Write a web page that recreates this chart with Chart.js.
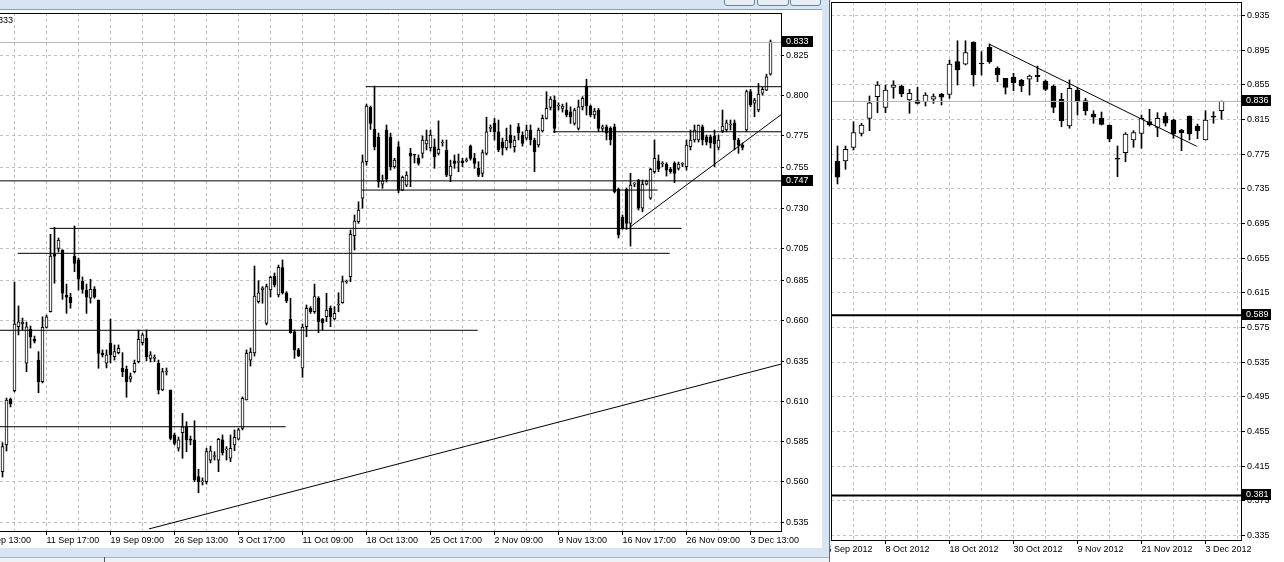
<!DOCTYPE html>
<html>
<head>
<meta charset="utf-8">
<title>MT4 charts</title>
<script src="https://cdn.jsdelivr.net/npm/chart.js@4.4.1/dist/chart.umd.min.js"></script>
<style>
  body { margin: 0; width: 1284px; height: 562px; overflow: hidden; background: #fff; position: relative; }
  .box { position: absolute; }
  #leftWin { left: 0; top: 0; width: 830px; height: 562px; background: #d7e4f2; }
  #titleLine { left: 0; top: 9px; width: 822px; height: 1px; background: #8d9db1; }
  .btn { top: -3px; height: 7px; border: 1px solid #6f8196; border-radius: 3px; background: #e8eef6; }
  #bottomStrip { left: 0; top: 557px; width: 830px; height: 5px; background: #eef1f5; border-top: 1px solid #a9b6c6; }
  #bottomTick { left: 104px; top: 557px; width: 1px; height: 5px; background: #555; }
  #rightEdge { left: 829px; top: 0; width: 1px; height: 562px; background: #5d6b7c; }
  canvas { position: absolute; background: #fff; }
</style>
</head>
<body>
<div id="leftWin" class="box"></div>
<div id="titleLine" class="box"></div>
<div class="box btn" style="left:724px;width:29px"></div>
<div class="box btn" style="left:757px;width:30px"></div>
<div class="box btn" style="left:790px;width:29px"></div>
<div id="bottomStrip" class="box"></div>
<div id="bottomTick" class="box"></div>
<canvas id="leftChart" width="822" height="538" style="left:0;top:10px"></canvas>
<div id="rightEdge" class="box"></div>
<canvas id="rightChart" width="454" height="557" style="left:830px;top:0"></canvas>

<script>
// ---- LEFT CHART (H4) ----
// one value per bar, bar 0 is the first bar on the left
let leftOpen = [
  0.5664,0.5830,0.6115,0.6167,0.6564,0.6581,0.6337,0.6550,0.6488,0.6357,
  0.6223,0.6560,0.6657,0.7016,0.7051,0.7041,0.6761,0.6747,0.7003,0.6979,
  0.6846,0.6792,0.6741,0.6796,0.6730,0.6401,0.6337,0.6461,0.6378,0.6403,
  0.6306,0.6300,0.6238,0.6285,0.6347,0.6465,0.6492,0.6368,0.6368,0.6337,
  0.6171,0.6283,0.6171,0.5892,0.5809,0.5906,0.5943,0.5861,0.5861,0.5633,
  0.5600,0.5602,0.5736,0.5757,0.5736,0.5861,0.5799,0.5747,0.5830,0.5865,
  0.5933,0.6109,0.6357,0.6401,0.6720,0.6792,0.6585,0.6792,0.6879,0.6761,
  0.6931,0.6775,0.6610,0.6533,0.6420,0.6306,0.6564,0.6679,0.6657,0.6741,
  0.6612,0.6626,0.6679,0.6612,0.6699,0.6713,0.6842,0.6875,0.7129,0.7216,
  0.7362,0.7589,0.7927,0.7790,0.7742,0.7450,0.7786,0.7742,0.7558,0.7682,
  0.7413,0.7444,0.7641,0.7631,0.7610,0.7641,0.7699,0.7674,0.7682,0.7641,
  0.7705,0.7662,0.7500,0.7595,0.7585,0.7595,0.7595,0.7686,0.7610,0.7548,
  0.7517,0.7641,0.7796,0.7827,0.7775,0.7711,0.7674,0.7755,0.7682,0.7806,
  0.7755,0.7736,0.7786,0.7724,0.7693,0.7781,0.7858,0.7927,0.7972,0.7935,
  0.7920,0.7910,0.7899,0.7827,0.7796,0.7930,0.8059,0.7935,0.7879,0.7910,
  0.7796,0.7806,0.7796,0.7806,0.7417,0.7243,0.7417,0.7206,0.7450,0.7475,
  0.7300,0.7450,0.7362,0.7527,0.7595,0.7575,0.7575,0.7542,0.7579,0.7548,
  0.7573,0.7558,0.7682,0.7724,0.7724,0.7806,0.7744,0.7744,0.7749,0.7678,
  0.7781,0.7786,0.7817,0.7831,0.7724,0.7693,0.7786,0.8024,0.7952,0.7910,
  0.8014,0.8034,0.8133
];
let leftHigh = [
  0.5844,0.6121,0.6121,0.6842,0.6693,0.6618,0.6593,0.6569,0.6506,0.6409,
  0.6626,0.6637,0.7138,0.7182,0.7115,0.7041,0.6829,0.6772,0.7190,0.6991,
  0.6873,0.6829,0.6859,0.6813,0.6730,0.6420,0.6420,0.6612,0.6451,0.6451,
  0.6403,0.6320,0.6277,0.6357,0.6544,0.6525,0.6544,0.6409,0.6389,0.6357,
  0.6306,0.6308,0.6171,0.5904,0.5879,0.6026,0.5974,0.5885,0.5980,0.5679,
  0.5625,0.5809,0.5823,0.5788,0.5871,0.5892,0.5819,0.5892,0.5923,0.5933,
  0.6128,0.6420,0.6432,0.6941,0.6850,0.6813,0.6829,0.6879,0.6898,0.6947,
  0.6979,0.6782,0.6741,0.6544,0.6430,0.6581,0.6699,0.6689,0.6829,0.6751,
  0.6616,0.6772,0.6693,0.6689,0.6775,0.6879,0.6854,0.7165,0.7258,0.7340,
  0.7631,0.7947,0.7935,0.8059,0.7767,0.7506,0.7817,0.7767,0.7610,0.7713,
  0.7500,0.7527,0.7672,0.7631,0.7631,0.7749,0.7786,0.7786,0.7730,0.7843,
  0.7724,0.7724,0.7599,0.7631,0.7637,0.7610,0.7612,0.7693,0.7641,0.7589,
  0.7662,0.7866,0.7817,0.7858,0.7848,0.7736,0.7798,0.7817,0.7749,0.7827,
  0.7775,0.7817,0.7817,0.7736,0.7798,0.7879,0.8024,0.7993,0.7997,0.7955,
  0.7947,0.7955,0.7930,0.7920,0.7972,0.7993,0.8102,0.7941,0.7920,0.7920,
  0.7817,0.7817,0.7806,0.7823,0.7426,0.7258,0.7426,0.7517,0.7459,0.7480,
  0.7475,0.7475,0.7548,0.7724,0.7631,0.7589,0.7583,0.7554,0.7589,0.7587,
  0.7583,0.7724,0.7786,0.7817,0.7817,0.7817,0.7755,0.7755,0.7786,0.7755,
  0.7910,0.7848,0.7848,0.7848,0.7735,0.7705,0.8034,0.8038,0.7983,0.8076,
  0.8051,0.8133,0.8345
];
let leftLow = [
  0.5631,0.5792,0.6066,0.6159,0.6513,0.6544,0.6285,0.6432,0.6463,0.6154,
  0.6215,0.6556,0.6655,0.6834,0.7028,0.6734,0.6647,0.6679,0.6906,0.6792,
  0.6772,0.6647,0.6711,0.6741,0.6306,0.6376,0.6308,0.6339,0.6357,0.6395,
  0.6254,0.6126,0.6221,0.6277,0.6339,0.6451,0.6353,0.6345,0.6347,0.6146,
  0.6167,0.6264,0.5861,0.5830,0.5792,0.5747,0.5788,0.5830,0.5602,0.5533,
  0.5581,0.5587,0.5718,0.5736,0.5664,0.5767,0.5736,0.5726,0.5794,0.5861,
  0.5923,0.6109,0.6320,0.6382,0.6711,0.6710,0.6575,0.6749,0.6811,0.6749,
  0.6767,0.6713,0.6523,0.6368,0.6378,0.6250,0.6502,0.6647,0.6647,0.6527,
  0.6544,0.6595,0.6564,0.6606,0.6657,0.6710,0.6834,0.6844,0.7041,0.7206,
  0.7300,0.7568,0.7790,0.7662,0.7430,0.7424,0.7463,0.7537,0.7548,0.7396,
  0.7409,0.7434,0.7434,0.7581,0.7568,0.7612,0.7662,0.7655,0.7548,0.7630,
  0.7686,0.7496,0.7465,0.7548,0.7527,0.7558,0.7587,0.7599,0.7548,0.7496,
  0.7496,0.7631,0.7775,0.7724,0.7651,0.7631,0.7662,0.7674,0.7649,0.7724,
  0.7686,0.7724,0.7693,0.7527,0.7680,0.7773,0.7854,0.7910,0.7769,0.7910,
  0.7897,0.7868,0.7827,0.7817,0.7786,0.7910,0.7879,0.7868,0.7858,0.7775,
  0.7775,0.7724,0.7693,0.7395,0.7115,0.7169,0.7169,0.7065,0.7434,0.7289,
  0.7278,0.7444,0.7355,0.7517,0.7527,0.7558,0.7500,0.7517,0.7459,0.7537,
  0.7558,0.7537,0.7662,0.7711,0.7711,0.7693,0.7693,0.7674,0.7558,0.7662,
  0.7769,0.7775,0.7786,0.7662,0.7641,0.7662,0.7775,0.7930,0.7868,0.7899,
  0.8003,0.8030,0.8127
];
let leftClose = [
  0.5819,0.6109,0.6084,0.6581,0.6595,0.6593,0.6564,0.6500,0.6475,0.6223,
  0.6560,0.6626,0.7003,0.7003,0.7103,0.6772,0.6747,0.6713,0.6958,0.6859,
  0.6796,0.6747,0.6796,0.6747,0.6399,0.6389,0.6389,0.6389,0.6409,0.6430,
  0.6285,0.6223,0.6254,0.6337,0.6486,0.6513,0.6378,0.6389,0.6370,0.6171,
  0.6285,0.6285,0.5871,0.5840,0.5861,0.5943,0.5861,0.5859,0.5612,0.5602,
  0.5602,0.5788,0.5794,0.5758,0.5865,0.5782,0.5800,0.5809,0.5877,0.5923,
  0.6120,0.6399,0.6407,0.6755,0.6774,0.6806,0.6813,0.6871,0.6823,0.6933,
  0.6775,0.6726,0.6527,0.6420,0.6382,0.6562,0.6679,0.6657,0.6751,0.6595,
  0.6589,0.6668,0.6626,0.6647,0.6700,0.6844,0.6843,0.7138,0.7221,0.7289,
  0.7589,0.7935,0.7827,0.7682,0.7465,0.7469,0.7480,0.7558,0.7599,0.7413,
  0.7492,0.7506,0.7624,0.7630,0.7579,0.7724,0.7724,0.7755,0.7620,0.7666,
  0.7706,0.7506,0.7562,0.7579,0.7586,0.7583,0.7596,0.7610,0.7579,0.7506,
  0.7645,0.7775,0.7797,0.7775,0.7662,0.7674,0.7724,0.7707,0.7724,0.7769,
  0.7703,0.7786,0.7724,0.7651,0.7786,0.7858,0.7920,0.7978,0.7796,0.7936,
  0.7935,0.7879,0.7868,0.7910,0.7930,0.7983,0.7935,0.7879,0.7904,0.7796,
  0.7806,0.7767,0.7724,0.7403,0.7134,0.7175,0.7206,0.7444,0.7451,0.7300,
  0.7450,0.7469,0.7542,0.7610,0.7542,0.7576,0.7537,0.7527,0.7517,0.7575,
  0.7574,0.7693,0.7724,0.7786,0.7817,0.7724,0.7711,0.7705,0.7699,0.7724,
  0.7811,0.7831,0.7818,0.7724,0.7693,0.7678,0.8024,0.7941,0.7972,0.8009,
  0.8038,0.8117,0.8334
];
let leftPriceTicks = [0.825, 0.800, 0.775, 0.755, 0.730, 0.705, 0.685, 0.660, 0.635, 0.610, 0.585, 0.560, 0.535];
let leftTimeBars = [-5, 11, 27, 43, 59, 75, 91, 107, 123, 139, 155, 171, 187];
let leftTimeLabels = ['4 Sep 13:00', '11 Sep 17:00', '19 Sep 09:00', '26 Sep 13:00', '3 Oct 17:00', '11 Oct 09:00',
  '18 Oct 13:00', '25 Oct 17:00', '2 Nov 09:00', '9 Nov 13:00', '16 Nov 17:00', '26 Nov 09:00', '3 Dec 13:00'];
// horizontal lines drawn on the chart: price, first bar, last bar
let leftLevels = [0.8055, 0.7775, 0.7470, 0.7413, 0.7175, 0.7020, 0.6542, 0.5943];
let leftLevelFrom = [90.8, 137.6, -10, 89.8, 11.8, 3.8, -10, -10];
let leftLevelTo = [210, 210, 210, 163.8, 169.8, 166.8, 118.8, 70.8];
// trend lines: [bar, price] pairs
let leftTrendA = [[36.6, 0.5308], [194.8, 0.6333]];
let leftTrendB = [[156.8, 0.7182], [194.8, 0.7884]];
let leftBid = 0.833;
let leftMarks = [0.833, 0.747];

// ---- RIGHT CHART (Daily) ----
let rightOpen = [
  0.7606,0.7672,0.7672,0.7830,0.7992,0.8165,0.8415,0.8292,0.8523,0.8538,
  0.8377,0.8369,0.8357,0.8385,0.8446,0.8442,0.8819,0.8789,0.9043,0.8798,
  0.8985,0.8743,0.8627,0.8639,0.8608,0.8616,0.8662,0.8596,0.8538,0.8385,
  0.8076,0.8492,0.8369,0.8215,0.8165,0.8088,0.7703,0.7768,0.7915,0.7992,
  0.8126,0.8061,0.8192,0.8146,0.8030,0.8192,0.8076,0.7915,0.8192,0.8253
];
let rightHigh = [
  0.7661,0.7845,0.7845,0.8126,0.8108,0.8423,0.8588,0.8550,0.8599,0.8550,
  0.8500,0.8523,0.8461,0.8446,0.8454,0.8838,0.9061,0.9061,0.9050,0.8934,
  0.9023,0.8761,0.8627,0.8685,0.8616,0.8665,0.8769,0.8608,0.8550,0.8454,
  0.8608,0.8523,0.8396,0.8253,0.8238,0.8088,0.7845,0.7999,0.8022,0.8203,
  0.8269,0.8230,0.8230,0.8154,0.8038,0.8192,0.8099,0.8253,0.8241,0.8365
];
let rightLow = [
  0.7499,0.7407,0.7576,0.7799,0.7961,0.8022,0.8230,0.8230,0.8396,0.8415,
  0.8223,0.8330,0.8307,0.8338,0.8319,0.8396,0.8550,0.8781,0.8538,0.8665,
  0.8800,0.8588,0.8446,0.8484,0.8472,0.8434,0.8588,0.8484,0.8230,0.8068,
  0.8050,0.8203,0.8203,0.8108,0.8088,0.7895,0.7491,0.7664,0.7830,0.7819,
  0.8076,0.7953,0.8076,0.7934,0.7791,0.7915,0.7930,0.7915,0.8108,0.8154
];
let rightClose = [
  0.7530,0.7484,0.7807,0.7999,0.8088,0.8345,0.8550,0.8492,0.8550,0.8446,
  0.8454,0.8338,0.8434,0.8415,0.8408,0.8792,0.8723,0.8923,0.8665,0.8792,
  0.8819,0.8665,0.8523,0.8576,0.8538,0.8654,0.8646,0.8500,0.8292,0.8138,
  0.8512,0.8357,0.8253,0.8177,0.8096,0.7926,0.7692,0.7984,0.7999,0.8165,
  0.8088,0.8165,0.8108,0.7984,0.7999,0.7984,0.8022,0.8146,0.8177,0.8360
];
let rightPriceTicks = [0.935, 0.895, 0.855, 0.815, 0.775, 0.735, 0.695, 0.655, 0.615, 0.575, 0.535, 0.495, 0.455, 0.415, 0.375, 0.335];
let rightTimeBars = [-1, 7, 15, 23, 31, 39, 47];
let rightTimeLabels = ['26 Sep 2012', '8 Oct 2012', '18 Oct 2012', '30 Oct 2012', '9 Nov 2012', '21 Nov 2012', '3 Dec 2012'];
let rightLevels = [0.589, 0.381];
let rightTrend = [[20, 0.9020], [45.9, 0.7842]];
let rightBid = 0.836;
let rightMarks = [0.836, 0.589, 0.381];

const FONT = "Tahoma, 'Liberation Sans', Arial, sans-serif";
Chart.defaults.font.family = FONT;
Chart.defaults.font.size = 9;
Chart.defaults.color = '#000';

// wicks and bodies as floating bars
function candleSets(open, high, low, close, bodyWidth) {
  let wicks = [];
  let bodies = [];
  for (let i = 0; i < open.length; i++) {
    wicks.push({ x: i, y: [low[i], high[i]] });
    bodies.push({ x: i, y: [open[i], close[i]] });
  }
  return [
    { type: 'bar', data: wicks, backgroundColor: '#000', borderWidth: 0, grouped: false,
      maxBarThickness: 1, barPercentage: 1, categoryPercentage: 1, order: 3 },
    { type: 'bar', data: bodies, borderColor: '#000', borderWidth: 1, borderSkipped: false, grouped: false,
      backgroundColor: function(ctx) {
        let i = ctx.dataIndex;
        if (i === undefined) return '#000';
        return close[i] >= open[i] ? '#fff' : '#000';
      },
      maxBarThickness: bodyWidth, barPercentage: 1, categoryPercentage: 1, minBarLength: 1, order: 2 }
  ];
}

function lineSet(points, color, width) {
  return { type: 'line', data: points.map(p => ({ x: p[0], y: p[1] })), borderColor: color, borderWidth: width,
    pointRadius: 0, fill: false, tension: 0, order: 1 };
}

// frame, price boxes and corner text
let mtPlugin = {
  id: 'mt',
  afterDraw(chart, args, opts) {
    let ctx = chart.ctx;
    let a = chart.chartArea;
    let ys = chart.scales.y;
    ctx.save();
    ctx.strokeStyle = '#000';
    ctx.lineWidth = 1;
    ctx.beginPath();
    ctx.moveTo(a.left, a.top + 0.5);
    ctx.lineTo(a.right, a.top + 0.5);
    if (opts.leftBorder) {
      ctx.moveTo(a.left + 0.5, a.top);
      ctx.lineTo(a.left + 0.5, a.bottom);
    }
    ctx.stroke();
    ctx.font = '9px ' + FONT;
    ctx.textBaseline = 'middle';
    for (let i = 0; i < opts.marks.length; i++) {
      let py = Math.round(ys.getPixelForValue(opts.marks[i]));
      ctx.fillStyle = '#000';
      ctx.fillRect(a.right + 1, py - 6, opts.boxWidth, 11);
      ctx.fillStyle = '#fff';
      ctx.fillText(opts.marks[i].toFixed(3), a.right + 5, py);
    }
    if (opts.corner) {
      ctx.fillStyle = '#000';
      ctx.textAlign = 'right';
      ctx.fillText(opts.corner, a.left + 13, a.top + 8);
    }
    ctx.restore();
  }
};

function buildChart(id, c) {
  let datasets = candleSets(c.open, c.high, c.low, c.close, c.bodyWidth);
  for (let i = 0; i < c.levels.length; i++) {
    datasets.push(lineSet([[c.levelFrom[i], c.levels[i]], [c.levelTo[i], c.levels[i]]], '#000', c.levelWidth));
  }
  for (let i = 0; i < c.trends.length; i++) {
    datasets.push(lineSet(c.trends[i], '#000', 1));
  }
  datasets.push(lineSet([[-10, c.bid], [300, c.bid]], '#b4b4b4', 1));

  let gridBars = [];
  for (let b = c.timeBars[0]; b <= c.xMax; b += c.gridStep) gridBars.push(b);

  return new Chart(document.getElementById(id), {
    type: 'bar',
    data: { datasets: datasets },
    plugins: [mtPlugin],
    options: {
      responsive: false,
      animation: false,
      events: [],
      layout: { padding: { left: c.padLeft, top: c.padTop, right: 0, bottom: 0 } },
      plugins: {
        legend: { display: false },
        tooltip: { enabled: false },
        mt: { marks: c.marks, boxWidth: c.boxWidth, leftBorder: c.leftBorder, corner: c.corner }
      },
      scales: {
        x: {
          type: 'linear', min: c.xMin, max: c.xMax, offset: false,
          afterBuildTicks: s => { s.ticks = gridBars.map(v => ({ value: v })); },
          afterFit: s => { s.height = c.xAxisHeight; s.paddingLeft = 0; s.paddingRight = 0; },
          grid: {
            color: '#c0c0c0', offset: false, tickLength: 4, tickBorderDash: [],
            tickColor: ctx => (ctx.tick && c.timeBars.indexOf(ctx.tick.value) >= 0 ? '#000' : 'rgba(0,0,0,0)')
          },
          border: { color: '#000', width: 1, dash: [3, 3] },
          ticks: {
            autoSkip: false, maxRotation: 0, minRotation: 0, align: 'start', padding: 0,
            callback: v => { let k = c.timeBars.indexOf(v); return k >= 0 ? c.timeLabels[k] : ''; }
          }
        },
        y: {
          type: 'linear', position: 'right', min: c.yMin, max: c.yMax, beginAtZero: false, bounds: 'data',
          afterBuildTicks: s => { s.ticks = c.priceTicks.map(v => ({ value: v })); },
          afterFit: s => { s.width = c.yAxisWidth; s.paddingTop = 0; s.paddingBottom = 0; },
          grid: { color: '#c0c0c0', tickLength: c.yTick, tickColor: '#000', tickBorderDash: [] },
          border: { color: '#000', width: 1, dash: [3, 3] },
          ticks: { autoSkip: false, padding: 2, callback: v => v.toFixed(3) }
        }
      }
    }
  });
}

buildChart('leftChart', {
  open: leftOpen, high: leftHigh, low: leftLow, close: leftClose, bodyWidth: 3,
  levels: leftLevels, levelFrom: leftLevelFrom, levelTo: leftLevelTo, levelWidth: 1,
  trends: [leftTrendA, leftTrendB], bid: leftBid, marks: leftMarks, boxWidth: 31,
  timeBars: leftTimeBars, timeLabels: leftTimeLabels, gridStep: 8, priceTicks: leftPriceTicks,
  xMin: -0.625, xMax: 194.625, yMin: 0.52953, yMax: 0.85127,
  padLeft: 0, padTop: 3, xAxisHeight: 17, yAxisWidth: 41, yTick: 3,
  leftBorder: false, corner: '0.8333'
});

buildChart('rightChart', {
  open: rightOpen, high: rightHigh, low: rightLow, close: rightClose, bodyWidth: 5,
  levels: rightLevels, levelFrom: [-10, -10], levelTo: [300, 300], levelWidth: 2,
  trends: [rightTrend], bid: rightBid, marks: rightMarks, boxWidth: 29,
  timeBars: rightTimeBars, timeLabels: rightTimeLabels, gridStep: 4, priceTicks: rightPriceTicks,
  xMin: 0.1875, xMax: 51.4375, yMin: 0.32957, yMax: 0.95082,
  padLeft: 1, padTop: 2, xAxisHeight: 17, yAxisWidth: 43, yTick: 4,
  leftBorder: true, corner: ''
});
</script>
</body>
</html>
